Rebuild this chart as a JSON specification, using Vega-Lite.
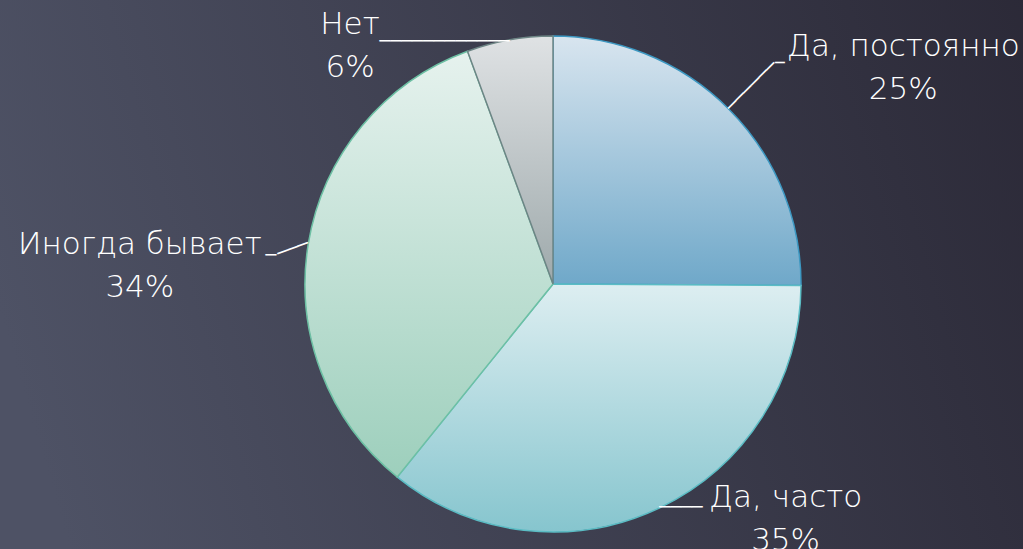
{
  "$schema": "https://vega.github.io/schema/vega-lite/v6.json",
  "width": 1106,
  "height": 568,
  "autosize": "none",
  "padding": {"left": 0, "top": 0, "right": -83, "bottom": -19},
  "background": "#3c3c4b",
  "config": {"view": {"stroke": null}},
  "data": {
    "values": [
      {"cat": "Да, постоянно", "value": 25.1, "label": "Да, постоянно\n25%"},
      {"cat": "Да, часто", "value": 35.7, "label": "Да, часто\n35%"},
      {"cat": "Иногда бывает", "value": 33.6, "label": "Иногда бывает\n34%"},
      {"cat": "Нет", "value": 5.6, "label": "Нет\n6%"}
    ]
  },
  "layer": [
    {
      "data": {"values": [{}]},
      "mark": {
        "type": "rect",
        "fill": {"gradient": "linear", "x1": 0, "y1": 0.55, "x2": 1, "y2": 0.4, "stops": [{"offset": 0, "color": "#4e5265"}, {"offset": 1, "color": "#2b2937"}]}
      },
      "encoding": {}
    },
    {
      "mark": {"type": "arc", "outerRadius": 248, "strokeWidth": 1.5},
      "encoding": {
        "theta": {"field": "value", "type": "quantitative", "stack": true},
        "fill": {
          "condition": [
            {"test": "datum.cat === 'Да, постоянно'", "value": {"gradient": "linear", "x1": 0, "y1": 0, "x2": 0, "y2": 1, "stops": [{"offset": 0, "color": "#d8e5ef"}, {"offset": 1, "color": "#6fa8c9"}]}},
            {"test": "datum.cat === 'Да, часто'", "value": {"gradient": "linear", "x1": 0, "y1": 0, "x2": 0, "y2": 1, "stops": [{"offset": 0, "color": "#ddeef1"}, {"offset": 1, "color": "#86c5ce"}]}},
            {"test": "datum.cat === 'Иногда бывает'", "value": {"gradient": "linear", "x1": 0, "y1": 0, "x2": 0, "y2": 1, "stops": [{"offset": 0, "color": "#e6f2ee"}, {"offset": 1, "color": "#9dcfbc"}]}}
          ],
          "value": {"gradient": "linear", "x1": 0, "y1": 0, "x2": 0, "y2": 1, "stops": [{"offset": 0, "color": "#dfe2e4"}, {"offset": 1, "color": "#9ea9ab"}]}
        },
        "stroke": {
          "condition": [
            {"test": "datum.cat === 'Да, постоянно'", "value": "#3d98c2"},
            {"test": "datum.cat === 'Да, часто'", "value": "#5bbcc4"},
            {"test": "datum.cat === 'Иногда бывает'", "value": "#6dc0a4"}
          ],
          "value": "#6d8585"
        }
      }
    },
    {
      "mark": {"type": "text", "radius": 248, "align": "right", "baseline": "middle", "dy": 2, "font": "DejaVu Sans", "fontSize": 18, "color": "white"},
      "encoding": {
        "theta": {"field": "value", "type": "quantitative", "stack": true},
        "text": {"condition": {"test": "datum.cat === 'Нет'", "value": "────────────"}, "value": ""}
      }
    },
    {
      "mark": {"type": "text", "radius": 248, "align": "left", "baseline": "middle", "font": "DejaVu Sans", "fontSize": 18, "color": "white"},
      "encoding": {
        "theta": {"field": "value", "type": "quantitative", "stack": true},
        "text": {"condition": {"test": "datum.cat === 'Да, часто'", "value": "────"}, "value": ""}
      }
    },
    {
      "mark": {"type": "text", "radius": 248, "align": "right", "baseline": "middle", "angle": 340, "font": "DejaVu Sans", "fontSize": 18, "color": "white"},
      "encoding": {
        "theta": {"field": "value", "type": "quantitative", "stack": true},
        "text": {"condition": {"test": "datum.cat === 'Иногда бывает'", "value": "───"}, "value": ""}
      }
    },
    {
      "mark": {"type": "text", "radius": 248, "align": "right", "baseline": "middle", "dx": -32, "dy": 12, "font": "DejaVu Sans", "fontSize": 18, "color": "white"},
      "encoding": {
        "theta": {"field": "value", "type": "quantitative", "stack": true},
        "text": {"condition": {"test": "datum.cat === 'Иногда бывает'", "value": "─"}, "value": ""}
      }
    },
    {
      "mark": {"type": "text", "radius": 248, "align": "left", "baseline": "middle", "angle": 315, "font": "DejaVu Sans", "fontSize": 18, "color": "white"},
      "encoding": {
        "theta": {"field": "value", "type": "quantitative", "stack": true},
        "text": {"condition": {"test": "datum.cat === 'Да, постоянно'", "value": "──────"}, "value": ""}
      }
    },
    {
      "mark": {"type": "text", "radius": 313, "align": "left", "baseline": "middle", "font": "DejaVu Sans", "fontSize": 16, "color": "white"},
      "encoding": {
        "theta": {"field": "value", "type": "quantitative", "stack": true},
        "text": {"condition": {"test": "datum.cat === 'Да, постоянно'", "value": "─"}, "value": ""}
      }
    },
    {
      "mark": {"type": "text", "radius": 423, "thetaOffset": 0.187, "lineBreak": "\n", "fontSize": 31, "font": "DejaVu Sans", "fontWeight": 300, "color": "white", "align": "center", "baseline": "middle", "lineHeight": 43},
      "encoding": {
        "theta": {"field": "value", "type": "quantitative", "stack": true},
        "text": {"condition": {"test": "datum.cat === 'Да, постоянно'", "field": "label"}, "value": ""}
      }
    },
    {
      "mark": {"type": "text", "radius": 316, "thetaOffset": -0.3843, "lineBreak": "\n", "fontSize": 31, "font": "DejaVu Sans", "fontWeight": 300, "color": "white", "align": "center", "baseline": "middle", "lineHeight": 43},
      "encoding": {
        "theta": {"field": "value", "type": "quantitative", "stack": true},
        "text": {"condition": {"test": "datum.cat === 'Да, часто'", "field": "label"}, "value": ""}
      }
    },
    {
      "mark": {"type": "text", "radius": 415, "thetaOffset": -0.0691, "lineBreak": "\n", "fontSize": 31, "font": "DejaVu Sans", "fontWeight": 300, "color": "white", "align": "center", "baseline": "middle", "lineHeight": 43},
      "encoding": {
        "theta": {"field": "value", "type": "quantitative", "stack": true},
        "text": {"condition": {"test": "datum.cat === 'Иногда бывает'", "field": "label"}, "value": ""}
      }
    },
    {
      "mark": {"type": "text", "radius": 329, "thetaOffset": -0.489, "lineBreak": "\n", "fontSize": 31, "font": "DejaVu Sans", "fontWeight": 300, "color": "white", "align": "center", "baseline": "middle", "lineHeight": 43},
      "encoding": {
        "theta": {"field": "value", "type": "quantitative", "stack": true},
        "text": {"condition": {"test": "datum.cat === 'Нет'", "field": "label"}, "value": ""}
      }
    }
  ]
}
